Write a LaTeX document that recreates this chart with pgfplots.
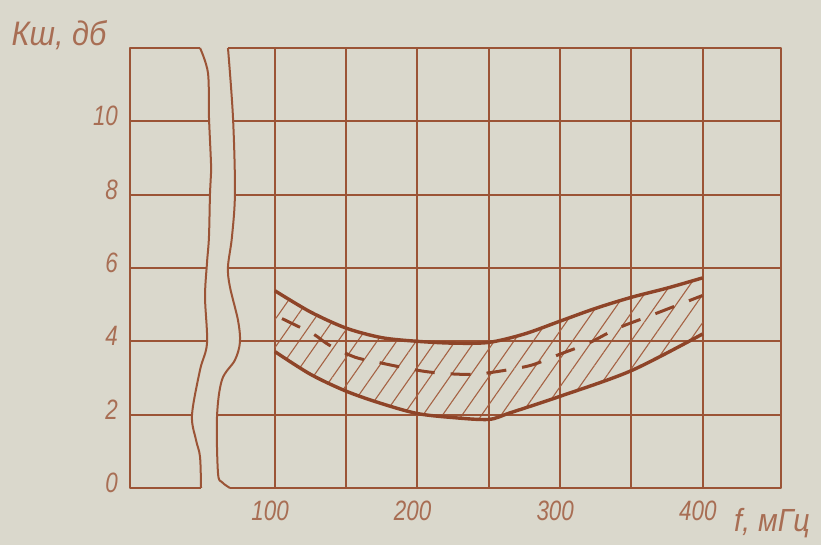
\documentclass[border=0pt]{standalone}
\usepackage{fontspec}
\setmainfont{Liberation Sans}
\usepackage{pgfplots}
\pgfplotsset{compat=1.18}
\usepgfplotslibrary{fillbetween}
\usetikzlibrary{patterns.meta}

\definecolor{paper}{RGB}{218,216,204}
\definecolor{ink}{RGB}{155,84,54}
\definecolor{inkdark}{RGB}{142,68,40}
\definecolor{hatch}{RGB}{165,98,68}
\definecolor{pencil}{RGB}{168,110,84}
\pagecolor{paper}

\tikzset{rule/.style={ink, line width=1pt}}
\pgfplotsset{
  sketch/.style={
    scale only axis, clip=false,
    ymin=0, ymax=12,
    axis line style={draw=none},
    major tick length=0pt,
    /pgf/number format/assume math mode=true,
  },
  hand/.style={font=\itshape\fontsize{14}{14}\selectfont, text=pencil, xscale=0.8},
}

\begin{document}
\begin{tikzpicture}
\path (0,0) rectangle (410.5pt,272.5pt);

% ---------- narrow panel with the dB scale ----------
\begin{axis}[sketch,
  at={(65pt,28.5pt)}, anchor=south west,
  width=41pt, height=220pt,
  xmin=0, xmax=1,
  xtick=\empty,
  ytick={0,2,4,6,8,10},
  yticklabel style={hand, xshift=-4pt, yshift=2.5pt},
]
\draw[rule, line join=round]
  (axis cs:0.854,12) -- (axis cs:0,12) -- (axis cs:0,0) -- (axis cs:0.866,0);
\addplot[rule, smooth, tension=0.55, no markers] coordinates {
  (0.854,12) (0.951,11.32) (0.963,10.12) (0.990,8.67) (0.976,8.07)
  (0.963,6.85) (0.939,6.14) (0.915,5.21) (0.939,3.95) (0.854,3.22)
  (0.756,1.99) (0.805,1.31) (0.854,0.85) (0.866,0)
};
\draw[rule] (axis cs:0,10) -- (axis cs:0.963,10);
\draw[rule] (axis cs:0,8)  -- (axis cs:0.978,8);
\draw[rule] (axis cs:0,6)  -- (axis cs:0.935,6);
\draw[rule] (axis cs:0,4)  -- (axis cs:0.937,4);
\draw[rule] (axis cs:0,2)  -- (axis cs:0.757,2);
\end{axis}

% ---------- main panel: noise figure versus frequency ----------
\begin{axis}[sketch,
  at={(107.5pt,28.5pt)}, anchor=south west,
  width=283pt, height=220pt,
  xmin=58, xmax=455,
  xtick={100,150,...,400},
  xticklabels={100,,200,,300,,400},
  xticklabel style={hand, xshift=-3pt, yshift=-3pt},
  ytick=\empty,
  xmajorgrids,
  grid style={rule},
]
% frame with the broken left edge
\draw[rule, line join=round]
  (axis cs:67.1,12) -- (axis cs:455,12) -- (axis cs:455,0) -- (axis cs:68.5,0);
\addplot[rule, smooth, tension=0.55, no markers] coordinates {
  (67.1,12) (70.6,10.12) (72.0,8.07) (69.9,6.85) (67.1,6.03) (68.5,5.48)
  (74.1,4.58) (75.5,3.98) (72.0,3.49) (62.9,2.95) (59.4,1.94) (60.1,0.41)
  (62.9,0.16) (68.5,0)
};
\draw[rule] (axis cs:70.6,10) -- (axis cs:455,10);
\draw[rule] (axis cs:72.0,8)  -- (axis cs:455,8);
\draw[rule] (axis cs:67.1,6)  -- (axis cs:455,6);
\draw[rule] (axis cs:75.5,4)  -- (axis cs:455,4);
\draw[rule] (axis cs:59.5,2)  -- (axis cs:455,2);

% upper and lower bounds of the spread
\addplot[name path=upper, inkdark, line width=1.7pt, smooth, no markers] coordinates {
  (100,5.38) (125,4.80) (150,4.36) (175,4.10) (200,4.00) (225,3.95)
  (250,3.97) (275,4.20) (300,4.55) (325,4.90) (350,5.20) (375,5.45) (400,5.73)
};
\addplot[name path=lower, inkdark, line width=1.7pt, smooth, no markers] coordinates {
  (100,3.72) (125,3.10) (150,2.64) (175,2.30) (200,2.03) (225,1.92)
  (250,1.87) (265,2.05) (300,2.50) (350,3.20) (400,4.20)
};
\addplot[pattern={Lines[angle=55, distance=8pt, line width=0.55pt]},
  pattern color=hatch] fill between[of=upper and lower];

% mean value
\addplot[inkdark, line width=1.5pt, smooth, no markers,
  dash pattern=on 10pt off 8pt] coordinates {
  (105,4.62) (114,4.45) (127,4.20) (138,3.90) (156,3.57) (172,3.43)
  (188,3.30) (205,3.18) (220,3.12) (240,3.10) (260,3.20) (280,3.35)
  (300,3.65) (320,3.95) (340,4.35) (360,4.65) (380,4.95) (400,5.25)
};
\end{axis}

\node[font=\itshape\fontsize{17}{17}\selectfont, text=pencil, xscale=0.9]
  at (29.5pt,255pt) {Кш, дб};
\node[font=\itshape\fontsize{16}{16}\selectfont, text=pencil, xscale=0.9]
  at (386pt,11pt) {f, мГц};
\end{tikzpicture}
\end{document}
